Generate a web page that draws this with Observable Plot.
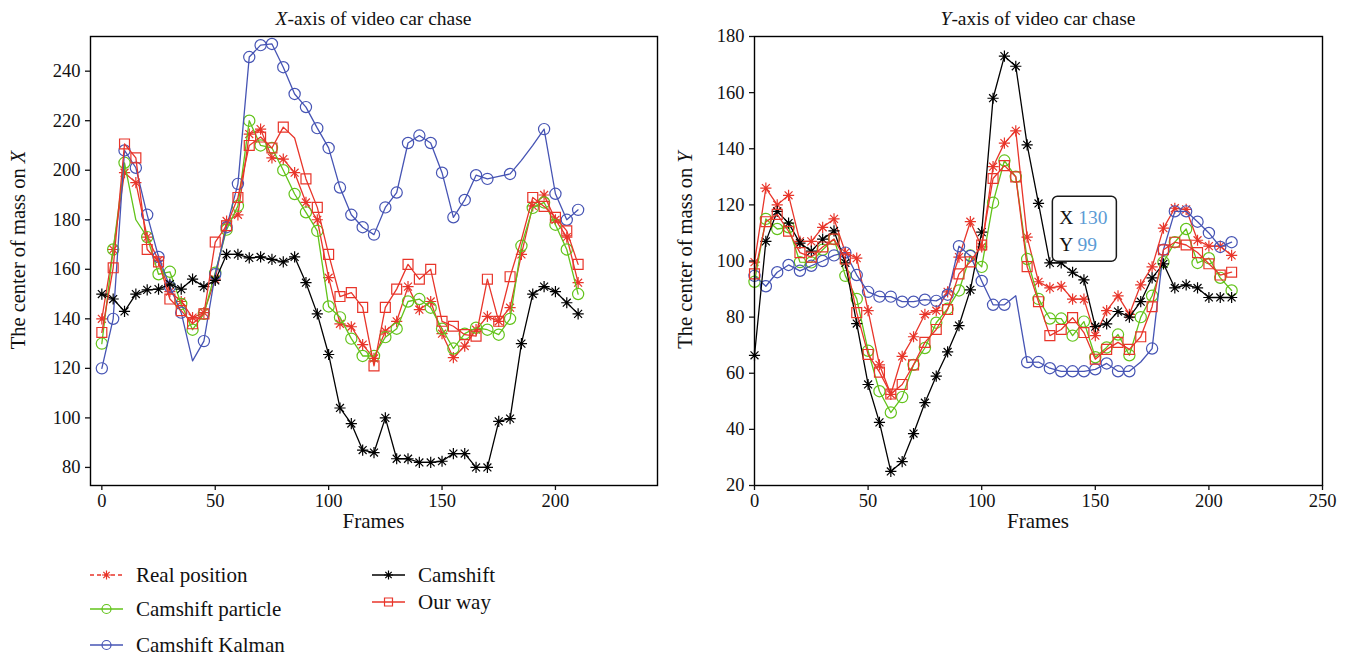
<!DOCTYPE html>
<html><head><meta charset="utf-8">
<script src="https://cdn.jsdelivr.net/npm/d3@7"></script>
<script src="https://cdn.jsdelivr.net/npm/@observablehq/plot@0.6"></script>
<style>
body{margin:0;background:#fff;font-family:"Liberation Serif","DejaVu Serif",serif;}
#wrap{position:relative;width:1356px;height:658px;overflow:hidden;}
#wrap > svg{position:absolute;}
</style></head><body><div id="wrap"></div>
<script>
const frames = [0,5,10,15,20,25,30,35,40,45,50,55,60,65,70,75,80,85,90,95,100,105,110,115,120,125,130,135,140,145,150,155,160,165,170,175,180,185,190,195,200,205,210];

const seriesNames = ["Real position","Camshift particle","Camshift Kalman","Camshift","Our way"];
const seriesColors = ["#e8352a","#62c31a","#4654b4","#000000","#e8352a"];

// X-axis of video car chase
const xReal     = [140,168,199,195,173,163.6,151,147,140.5,142.5,156,179.5,182,214.6,216.6,205,204.5,199,187,180,156.6,138,136.8,129.6,124,135,139,153,143.7,147,134,124.3,129,135.6,141,139,144.5,166,185.6,190,180,173,154.6];
const xParticle = [130,168,203,180,173,158,159,146,135.6,142,158.6,176,185.6,220,210,209,200,190.4,183,175.5,145,140.6,132,125,125,132.6,136,147,148,144.5,136,128,134,136.4,135.6,133.6,140,169.5,184.8,187,178,168,150];
const xKalman   = [120,140,208,201,182,165,153,142.5,123,131,158,177,194.5,245.7,250.5,251,241.6,230.8,225.5,217,209,193,182,177,174,185,191,211,214,211,199,181,188,198,196.5,197.5,198.5,204,210,216.6,190.5,180,184];
const xCamshift = [150,148,143,150,151.7,152,154,152,156,153,155.5,166,166,164.6,165,164,163,165,154.6,142,125.6,104,97.7,87,86,100,83.5,83.5,82,82,82.5,85.6,85.6,80,80,98.6,99.7,130,150,153,151,146.5,142];
const xOurs     = [134.5,160.6,210.6,205,168,163,148,143.3,138,142,171,177.6,189,210,213.4,209,217.4,213,196.5,185,166,149,150.6,144.6,121,144.6,152,162,156,160,139,137,133.6,133,156,139,157,172,189,185.4,181,175.5,162];

// Y-axis of video car chase
const yReal     = [99.6,126,120,123.4,107,107,112,115,103,101,82.3,63,52.5,66,73,81,82.3,89,101.4,114,105,133.6,142,146.4,108.5,92.6,90.4,91,86.4,86.4,73.4,82.3,87.6,81,91.5,97.9,111.7,118.8,118.4,107.4,105.3,105.3,102];
const yParticle = [92.6,115,111.4,112,99.6,99.5,104,107.8,94.7,86.5,68,53.6,46,51.5,63,69,78,83,89.5,102,97.9,120.8,135.8,130,100.7,86.5,79.5,79.5,73.4,78.4,65.7,69.2,73.8,66.4,80,87.6,99.6,106.7,111.4,99.3,101,94,89.5];
const yKalman   = [94.7,91,96,98.6,96.5,98.3,100,102,103,95,89,87.3,87.3,85.5,85.5,86.2,85.8,88,105.3,101.8,92.9,84.4,84.4,87.6,63.9,64,61.8,60.7,60.7,60.7,61.4,63.5,60.7,60.7,64,68.8,104,117.7,117.7,114,110,105,106.7];
const yCamshift = [66.4,107,117.7,113.5,106.4,103.5,107.8,110.7,99.3,77.7,56,42.5,25,28.5,38.5,49.5,59,67.6,77,89.7,110.3,158,173,169.4,141.4,120.5,99.3,99.3,96,93.3,76.6,77.6,82,80,85.5,94,99,90.4,91.5,90.4,87,87,87];
const yOurs     = [95.4,114,116.6,110.6,103,101.4,105,107.8,100.7,81.6,66.7,60.4,52.6,56,63,71,75.6,82.7,95.4,99.7,105.7,129.4,134,130,98,85.5,73.4,75.6,79.8,74.5,65,68.5,71,68.5,73,83.7,104,106.7,105.7,103,99,95,96];

// frames where the line has a vertex but no marker is drawn
const xNoMarker = [[], [15], [40,175,185,190], [], [85,185]];
const yNoMarker = [[], [], [115,170], [], []];

const xTicksLeft = [0,50,100,150,200];
const yTicksLeft = [80,100,120,140,160,180,200,220,240];
const xTicksRight = [0,50,100,150,200,250];
const yTicksRight = [20,40,60,80,100,120,140,160,180];

const tipFrame = 130, tipValue = 99;

// 8-arm asterisk (like "*" marker)
const star = {draw(ctx, size){
  const r = Math.sqrt(size/Math.PI), d = r*Math.SQRT1_2;
  ctx.moveTo(-r,0); ctx.lineTo(r,0);
  ctx.moveTo(0,-r); ctx.lineTo(0,r);
  ctx.moveTo(-d,-d); ctx.lineTo(d,d);
  ctx.moveTo(-d,d); ctx.lineTo(d,-d);
}};
const seriesSymbols = [star,"circle","circle",star,"square"];

function toRows(arrs){
  return arrs.flatMap((vals,i)=>vals.map((v,j)=>({frame:frames[j], value:v, series:seriesNames[i]})));
}

function makeChart(arrs, o){
  const data = toRows(arrs);
  const marks = [];
  seriesNames.forEach((name,i)=>{
    const d = data.filter(r=>r.series===name);
    marks.push(Plot.line(d,{x:"frame",y:"value",stroke:seriesColors[i],strokeWidth:1.3}));
    const dm = d.filter(r=>!o.noMarker[i].includes(r.frame));
    marks.push(Plot.dot(dm,{x:"frame",y:"value",stroke:seriesColors[i],fill:"none",symbol:seriesSymbols[i],r:5.6,strokeWidth:1.2}));
  });
  marks.push(Plot.frame({stroke:"#000",strokeWidth:1.4}));
  marks.push(Plot.axisX({ticks:o.xTicks,tickSize:5,tickPadding:3,fontSize:18.5,label:null,strokeWidth:1.3}));
  marks.push(Plot.axisY({ticks:o.yTicks,tickSize:5,tickPadding:5,fontSize:18.5,label:null,strokeWidth:1.3}));
  const svg = Plot.plot({
    width:678, height:540,
    marginLeft:o.ml, marginRight:o.mr, marginTop:36, marginBottom:55,
    x:{domain:o.xDomain}, y:{domain:o.yDomain},
    style:{fontFamily:"'Liberation Serif',serif",fontSize:"18px",color:"#111",background:"transparent",overflow:"visible"},
    marks
  });
  const s = d3.select(svg);
  const cx = (o.ml + 678 - o.mr)/2;
  const t = s.append("text").attr("x",cx).attr("y",25).attr("text-anchor","middle").attr("font-size",19.5).attr("fill","#111");
  t.append("tspan").attr("font-style","italic").text(o.axisName);
  t.append("tspan").text("-axis of video car chase");
  s.append("text").attr("x",cx).attr("y",528).attr("text-anchor","middle").attr("font-size",21).attr("fill","#111").text("Frames");
  const yl = s.append("text").attr("transform",`translate(${o.ylx},250) rotate(-90)`).attr("text-anchor","middle").attr("font-size",20.5).attr("fill","#111");
  yl.append("tspan").text("The center of mass on ");
  yl.append("tspan").attr("font-style","italic").text(o.axisName);
  return svg;
}

const wrap = document.getElementById("wrap");
const left = makeChart([xReal,xParticle,xKalman,xCamshift,xOurs],{ml:90,mr:21,xDomain:[-5,245],yDomain:[72.7,254],xTicks:xTicksLeft,yTicks:yTicksLeft,axisName:"X",ylx:25,noMarker:xNoMarker});
left.style.left="0px"; left.style.top="0px";
wrap.appendChild(left);

const right = makeChart([yReal,yParticle,yKalman,yCamshift,yOurs],{ml:76,mr:34,xDomain:[0,250],yDomain:[20,180],xTicks:xTicksRight,yTicks:yTicksRight,axisName:"Y",ylx:14,noMarker:yNoMarker});
right.style.left="678px"; right.style.top="0px";
wrap.appendChild(right);

// data tip box on right chart
{
  const px = right.scale("x").apply(tipFrame), py = right.scale("y").apply(tipValue);
  const g = d3.select(right).append("g").attr("text-anchor","start");
  g.append("rect").attr("x",px+3).attr("y",py-67).attr("width",64).attr("height",65).attr("rx",5)
    .attr("fill","#fff").attr("stroke","#1a1a1a").attr("stroke-width",1.5);
  const t1 = g.append("text").attr("x",px+10).attr("y",py-39).attr("font-size",19.5);
  t1.append("tspan").attr("fill","#111").text("X ");
  t1.append("tspan").attr("fill","#5b9bd5").text(String(tipFrame));
  const t2 = g.append("text").attr("x",px+10).attr("y",py-12).attr("font-size",19.5);
  t2.append("tspan").attr("fill","#111").text("Y ");
  t2.append("tspan").attr("fill","#5b9bd5").text(String(tipValue));
}

// legend
{
  const legendCol = [0,0,0,1,1];
  const legendRow = [0,1,2,0,1];
  const colX = [90,372], rowY0 = [35,69,105], rowY1 = [35,62];
  const lg = d3.select(wrap).append("svg").attr("width",678).attr("height",118)
    .style("left","0px").style("top","540px");
  seriesNames.forEach((name,i)=>{
    const x0 = colX[legendCol[i]];
    const y0 = legendCol[i]===0 ? rowY0[legendRow[i]] : rowY1[legendRow[i]];
    lg.append("line").attr("x1",x0).attr("x2",x0+33).attr("y1",y0).attr("y2",y0)
      .attr("stroke",seriesColors[i]).attr("stroke-width",1.3)
      .attr("stroke-dasharray", i===0 ? "4,3" : null);
    const sym = typeof seriesSymbols[i]==="string" ? (seriesSymbols[i]==="circle"?d3.symbolCircle:d3.symbolSquare) : seriesSymbols[i];
    lg.append("path").attr("d",d3.symbol(sym, Math.PI*4.5*4.5)()).attr("transform",`translate(${x0+16.5},${y0})`)
      .attr("fill","none").attr("stroke",seriesColors[i]).attr("stroke-width",1.2);
    lg.append("text").attr("x",x0+46).attr("y",y0+7).attr("font-size",21).attr("fill","#111").text(name);
  });
}
</script>
</body></html>
